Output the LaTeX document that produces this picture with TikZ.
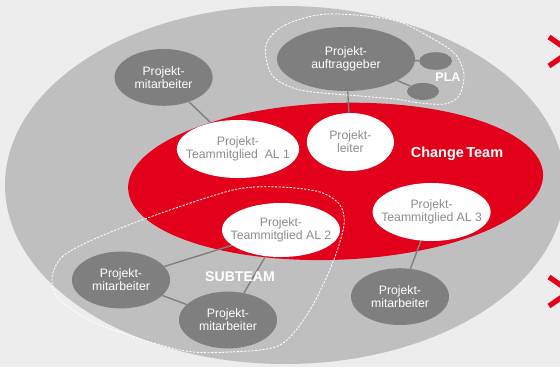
\documentclass[tikz,border=0pt]{standalone}
\usepackage{fontspec}
\setsansfont{Liberation Sans}
\usepackage{tikz}
\usetikzlibrary{shapes.geometric, backgrounds}
\definecolor{cBack}{HTML}{EDEDED}
\definecolor{cLight}{HTML}{BFBFBF}
\definecolor{cDark}{HTML}{7F7F7F}
\definecolor{cRed}{HTML}{E2001A}
\definecolor{cText}{HTML}{8C8C8C}
\pgfdeclarelayer{links}
\pgfsetlayers{background,links,main}
\tikzset{
  oval/.style={
    ellipse, inner sep=0pt, align=center,
    font=\fontsize{8.7}{9.3}\selectfont\sffamily
  },
  dbox/.style={oval, fill=cDark, text=white,
    minimum width=2.45cm, minimum height=1.42cm},
  wbox/.style={oval, fill=white, text=cText, inner xsep=-0.22cm,
    minimum width=2.95cm, minimum height=1.45cm},
  dot/.style={ellipse, fill=cDark, inner sep=0pt,
    minimum width=0.82cm, minimum height=0.44cm},
  link/.style={draw=cDark, line width=1pt},
  border/.style={draw=white, line width=0.6pt, dash pattern=on 1.6pt off 1pt},
  teamlbl/.style={text=white, font=\fontsize{#1}{#1}\selectfont\bfseries\sffamily},
}

\begin{document}
\begin{tikzpicture}
  \useasboundingbox (0,0) rectangle (14,9.175);

  % Areas
  \begin{scope}[on background layer]
    \fill[cBack] (0,0) rectangle (14,9.175);
    \fill[cLight] (7.125,4.55) ellipse [x radius=7.0cm, y radius=4.475cm];
    \fill[cRed, rotate around={2:(8.39,4.64)}] (8.39,4.64)
      ellipse [x radius=5.19cm, y radius=1.96cm];
  \end{scope}

  % Chevrons
  \draw[cRed, line width=0.13cm] (13.725,8.25) -- (14.25,7.8875) -- (13.725,7.525);
  \draw[cRed, line width=0.13cm] (13.725,2.25) -- (14.25,1.8875) -- (13.725,1.525);

  % Steering group
  \node[dbox, minimum width=3.45cm, minimum height=1.6cm] (ag) at (8.65,7.70)
    {Projekt-\\auftraggeber};
  \node[dot] (pla1) at (10.89,7.65) {};
  \node[dot, minimum width=0.8cm, minimum height=0.425cm] (pla2) at (10.575,6.89) {};
  \node[teamlbl=8.9] (pla) at (11.2,7.25) {PLA};

  % Change team
  \node[teamlbl=10.3] (ct) at (11.425,5.325) {Change\,Team};
  \node[wbox] (al1) at (5.95,5.45) {Projekt-\\Teammitglied\ \ AL 1};
  \node[wbox, minimum width=2.175cm] (pl) at (8.76,5.625) {Projekt-\\leiter};
  \node[wbox, minimum height=1.35cm] (al2) at (7.025,3.425) {Projekt-\\Teammitglied AL 2};
  \node[wbox] (al3) at (10.79,3.875) {Projekt-\\Teammitglied AL 3};

  % Members
  \node[dbox] (mit1) at (4.09,7.24) {Projekt-\\mitarbeiter};
  \node[dbox] (mit3) at (10.0,1.76) {Projekt-\\mitarbeiter};
  \node[dbox] (mit4) at (3.025,2.175) {Projekt-\\mitarbeiter};
  \node[dbox] (mit5) at (5.7,1.175) {Projekt-\\mitarbeiter};
  \node[teamlbl=10] (sub) at (6.0,2.25) {SUBTEAM};

  % Links
  \begin{pgfonlayer}{links}
    \draw[link] (mit1) -- (al1);
    \draw[link] (ag) -- (pl);
    \draw[link] (ag) -- (pla1);
    \draw[link] (ag) -- (pla2);
    \draw[link] (al3) -- (mit3);
    \draw[link] (al2) -- (mit4);
    \draw[link] (al2) -- (mit5);
    \draw[link] (mit4) -- (mit5);
  \end{pgfonlayer}

  % Group outlines
  \draw[border] plot[smooth cycle] coordinates {
    (6.65,8.05) (7.125,8.55) (8.175,8.825) (9.825,8.675) (10.875,8.175)
    (11.4,7.8) (11.6,7.3) (11.475,6.775) (11.125,6.575) (10.5,6.6)
    (9.875,6.7) (9.0,6.775) (7.5,6.925) (6.8,7.3)};
  \draw[border] plot[smooth cycle] coordinates {
    (1.3,2.225) (1.55,2.75) (2.3,3.175) (3.75,3.75) (5.825,4.425)
    (7.0,4.5) (8.0,4.375) (8.5,4.05) (8.6,3.55) (8.325,2.625)
    (7.75,1.425) (7.0,0.55) (5.75,0.375) (4.5,0.425) (2.5,1.05) (1.5,1.675)};

\end{tikzpicture}
\end{document}
